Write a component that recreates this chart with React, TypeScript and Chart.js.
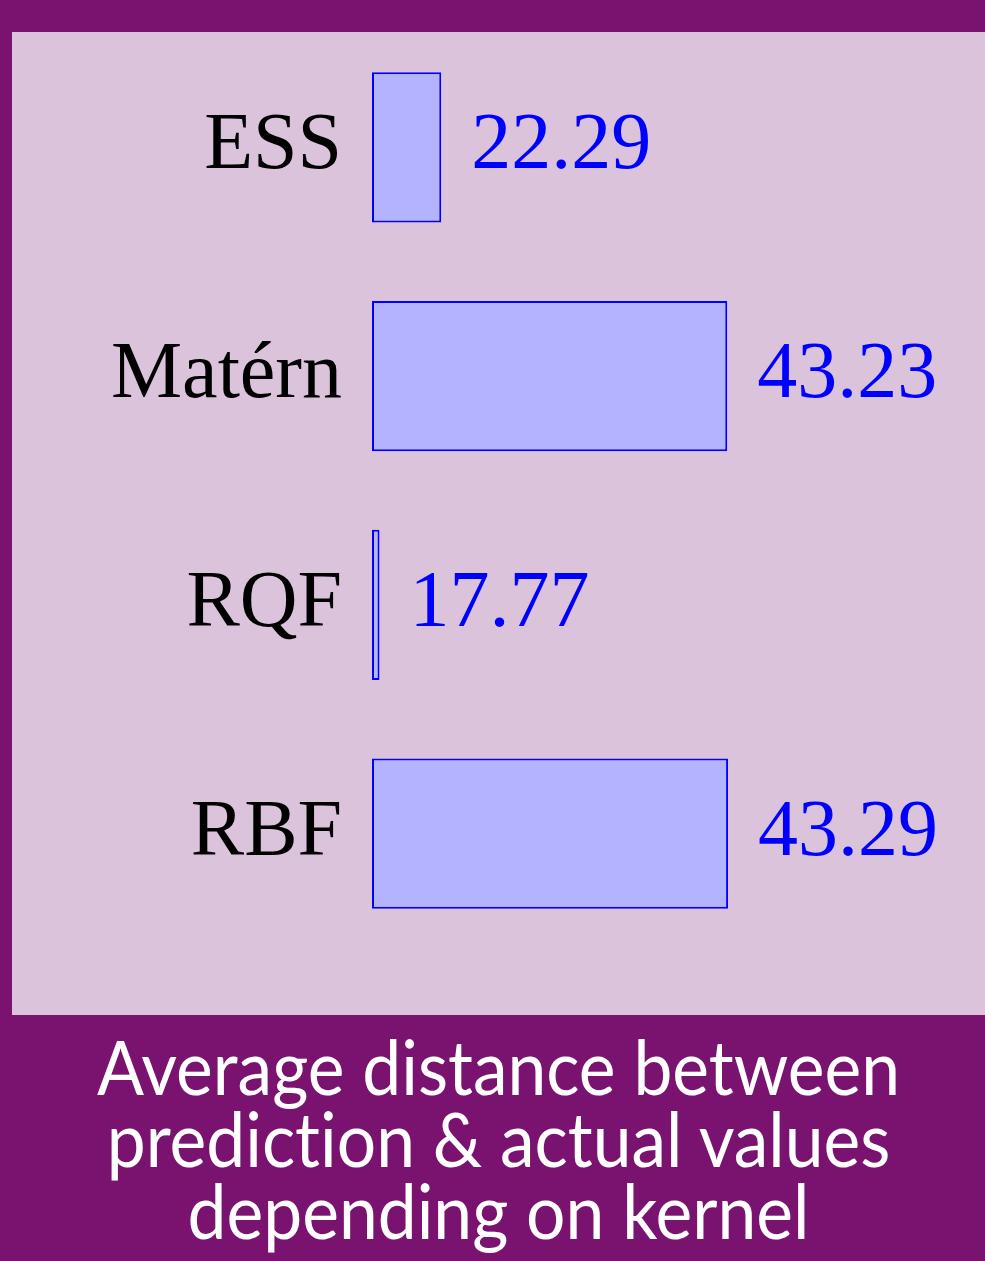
import React, { useEffect, useRef } from 'react';
import { Chart, registerables } from 'chart.js';

Chart.register(...registerables);

const categories = ['ESS', 'Matérn', 'RQF', 'RBF'];
const values = [22.29, 43.23, 17.77, 43.29];
const valueLabels = ['22.29', '43.23', '17.77', '43.29'];
const xRange = [17.22, 62.1];
const titleLines = ['Average distance between', 'prediction & actual values', 'depending on kernel'];

const serif = '"Liberation Serif", "DejaVu Serif", serif';
const labelSize = 80;

export default function App() {
  const ref = useRef<HTMLCanvasElement>(null);

  useEffect(() => {
    if (!ref.current) return;
    const valuePlugin = {
      id: 'valueLabels',
      afterDatasetsDraw(chart: any) {
        const ctx = chart.ctx;
        const meta = chart.getDatasetMeta(0);
        ctx.save();
        ctx.font = `${labelSize}px ${serif}`;
        ctx.fillStyle = '#0000FF';
        ctx.textAlign = 'left';
        ctx.textBaseline = 'middle';
        meta.data.forEach((el: any, i: number) => {
          ctx.fillText(valueLabels[i], el.x + 30, el.y);
        });
        ctx.restore();
      },
    };
    const chart = new Chart(ref.current, {
      type: 'bar',
      data: {
        labels: categories,
        datasets: [
          {
            data: values,
            base: xRange[0],
            backgroundColor: '#B3B3FF',
            borderColor: '#0000FF',
            borderWidth: 2,
            borderSkipped: false,
            inflateAmount: 0,
            clip: false,
            categoryPercentage: 1,
            barPercentage: 0.656,
          },
        ],
      },
      options: {
        indexAxis: 'y',
        responsive: false,
        animation: false,
        layout: { padding: 0 },
        plugins: {
          legend: { display: false },
          tooltip: { enabled: false },
          title: { display: false },
        },
        scales: {
          x: {
            display: false,
            min: xRange[0],
            max: xRange[1],
          },
          y: {
            position: 'left',
            grid: { display: false, drawTicks: false },
            border: { display: false },
            ticks: {
              padding: 30,
              color: '#000000',
              font: { family: serif, size: labelSize },
            },
            afterFit(scale: any) {
              scale.width = 360;
              scale.paddingTop = 0;
              scale.paddingBottom = 0;
            },
          },
        },
      },
      plugins: [valuePlugin],
    } as any);
    return () => chart.destroy();
  }, []);

  return (
    <div
      style={{
        position: 'absolute',
        left: 0,
        top: 0,
        width: 985,
        height: 1261,
        background: '#7A1270',
        overflow: 'hidden',
      }}
    >
      <div
        style={{
          position: 'absolute',
          left: 12,
          top: 32,
          width: 973,
          height: 983,
          background: '#DCC3DC',
        }}
      />
      <canvas
        ref={ref}
        width={973}
        height={915}
        style={{ position: 'absolute', left: 12, top: 33, width: 973, height: 915 }}
      />
      <div
        style={{
          position: 'absolute',
          left: 12,
          top: 1030,
          width: 973,
          textAlign: 'center',
          color: '#FFFFFF',
          fontFamily: 'Lato, "Noto Sans", sans-serif',
          fontSize: 76,
          lineHeight: '72px',
          whiteSpace: 'nowrap',
          fontVariantLigatures: 'none',
          transform: 'scaleX(0.915)',
          transformOrigin: '50% 50%',
        }}
      >
        {titleLines.map((l, i) => (
          <div key={i}>{l}</div>
        ))}
      </div>
    </div>
  );
}
